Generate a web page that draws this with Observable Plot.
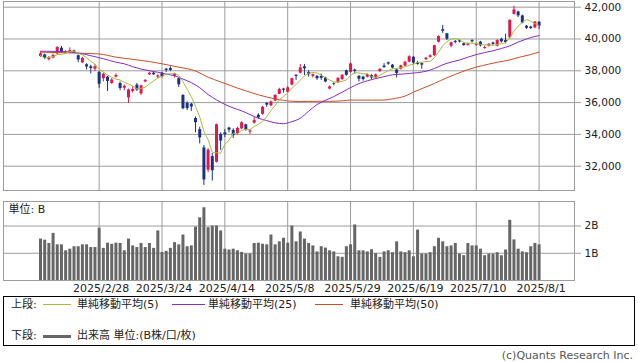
<!DOCTYPE html>
<html>
<head>
<meta charset="utf-8">
<script src="https://cdn.jsdelivr.net/npm/d3@7"></script>
<script src="https://cdn.jsdelivr.net/npm/@observablehq/plot@0.6"></script>
<style>
  html, body { margin: 0; padding: 0; background: #fff; }
  #wrap { position: relative; width: 638px; height: 362px; overflow: hidden;
          font-family: "DejaVu Sans", "Noto Sans CJK JP", sans-serif; color: #222; }
  #top, #vol { position: absolute; left: 0; }
  #top { top: 0; }
  #vol { top: 196px; }
  .box { position: absolute; left: 3px; top: 296px; width: 632px; height: 50px;
         border: 1px solid #000; box-sizing: border-box; }
  .lt { position: absolute; font-size: 11px; line-height: 14px; height: 14px; white-space: nowrap; color: #222; }
  .ln { position: absolute; }
  .copy { position: absolute; right: 5px; top: 350px; font-size: 11px; line-height: 11px; height: 11px; color: #555; white-space: nowrap; }
</style>
</head>
<body>
<div id="wrap">
  <div id="top"></div>
  <div id="vol"></div>
  <div class="box"></div>
  <span class="lt" style="left:11px;top:298px">上段:</span>
  <span class="ln" style="left:43px;top:304px;width:28px;height:1px;background:#a9bd3c"></span>
  <span class="lt" style="left:77px;top:298px">単純移動平均(5)</span>
  <span class="ln" style="left:172px;top:304px;width:33px;height:1px;background:#8a2ac8"></span>
  <span class="lt" style="left:208px;top:298px">単純移動平均(25)</span>
  <span class="ln" style="left:315px;top:304px;width:28px;height:1px;background:#cf4d28"></span>
  <span class="lt" style="left:350px;top:298px">単純移動平均(50)</span>
  <span class="lt" style="left:11px;top:329px">下段:</span>
  <span class="ln" style="left:43px;top:335px;width:28px;height:3px;background:#666"></span>
  <span class="lt" style="left:77px;top:329px">出来高 単位:(B株/口/枚)</span>
  <span class="copy">(c)Quants Research Inc.</span>
</div>
<script>
// ---- data ----
const dates = [
  "2/6","2/7","2/10","2/12","2/13","2/14","2/17","2/18","2/19","2/20","2/21","2/25","2/26","2/27","2/28",
  "3/3","3/4","3/5","3/6","3/7","3/10","3/11","3/12","3/13","3/14","3/17","3/18","3/19","3/21","3/24",
  "3/25","3/26","3/27","3/28","3/31","4/1","4/2","4/3","4/4","4/7","4/8","4/9","4/10","4/11","4/14",
  "4/15","4/16","4/17","4/18","4/21","4/22","4/23","4/24","4/25","4/28","4/30","5/1","5/2","5/7","5/8",
  "5/9","5/12","5/13","5/14","5/15","5/16","5/19","5/20","5/21","5/22","5/23","5/26","5/27","5/28","5/29",
  "5/30","6/2","6/3","6/4","6/5","6/6","6/9","6/10","6/11","6/12","6/13","6/16","6/17","6/18","6/19",
  "6/20","6/23","6/24","6/25","6/26","6/27","6/30","7/1","7/2","7/3","7/4","7/7","7/8","7/9","7/10",
  "7/11","7/14","7/15","7/16","7/17","7/18","7/22","7/23","7/24","7/25","7/28","7/29","7/30","7/31","8/1"
];
const tickDates = ["2/28","3/24","4/14","5/8","5/29","6/19","7/10","8/1"];
const priceTicks = [32000, 34000, 36000, 38000, 40000, 42000];
const volumeTicks = [1, 2];

const opens = [
  38900,39000,38700,38800,39060,39420,39100,39150,39250,38950,38500,38380,38250,38100,37900,
  37500,37600,37200,37600,37200,36900,36300,36700,37100,36550,37300,37750,37850,37600,37850,
  38100,38150,37650,37500,36450,35950,35900,35000,34300,33150,31750,32600,32250,34000,34100,
  34400,34250,34050,34350,34600,34150,34700,35200,35260,35950,35800,36100,36520,36850,36650,
  37100,37720,37850,38250,37900,37650,37650,37650,37550,36850,37200,37250,37450,38000,37900,
  38050,37650,37600,37600,37700,37550,37950,38300,38500,38350,38050,38100,38300,38550,38850,
  38500,38450,38700,38850,38950,39800,40580,40330,39550,39850,39880,39700,39600,39900,39600,
  39800,39400,39550,39750,39550,39980,39900,40080,41550,41700,41450,40800,40750,40700,41050
];
const highs = [
  39180,39050,38900,39050,39520,39530,39260,39440,39300,39000,38850,38450,38350,38400,37950,
  37850,37650,37500,37800,37300,37100,36850,37000,37200,37100,37450,37900,37900,37750,37900,
  38150,38250,37850,37550,36500,36050,35950,35100,34450,33300,33100,32800,34650,34100,34300,
  34450,34350,34450,34800,34650,34300,35100,35300,35750,36000,36100,36500,36900,36900,37000,
  37550,37750,38400,38400,38000,37800,37700,37800,37600,37050,37250,37550,37750,38050,38500,
  38100,37700,37650,37800,37750,37800,38150,38450,38550,38400,38100,38350,38600,38950,38900,
  38600,38500,38850,39000,39600,40200,40850,40350,39800,39900,39950,39750,39750,39950,39750,
  39850,39550,39700,39800,39950,40050,40300,41200,42060,41750,41500,40850,40800,41100,41100
];
const lows = [
  38850,38700,38620,38750,39000,39100,39060,39100,39100,38500,38450,38050,37800,37950,36900,
  37300,36700,37150,37550,36750,36750,35950,36600,36700,36450,37250,37700,37700,37500,37550,
  37900,37950,37550,36950,35550,35500,35450,34100,33400,30792,31600,31064,32200,33000,33800,
  34100,33750,33950,34300,34200,34000,34650,34950,35200,35700,35750,36050,36500,36600,36600,
  37050,37400,37800,37700,37600,37550,37400,37400,37250,36800,37050,37200,37400,37650,37850,
  37800,37300,37350,37550,37450,37500,37900,38150,38350,38100,37550,38050,38250,38500,38400,
  38350,38100,38650,38800,38900,39750,40350,39900,39450,39700,39750,39550,39550,39750,39550,
  39500,39350,39500,39600,39500,39750,39700,40000,41500,41350,40950,40600,40600,40650,40600
];
const closes = [
  39066,38787,38801,38963,39461,39149,39174,39270,39164,38678,38776,38237,38142,38256,37155,
  37785,37331,37418,37704,36887,37028,36793,36819,36790,37053,37396,37845,37751,37677,37608,
  38027,38027,37799,37120,35617,35624,35725,34735,33780,31136,33012,31714,34609,33585,33982,
  34267,33920,34377,34730,34280,34220,34868,35039,35705,35839,36045,36452,36830,36780,36928,
  37503,37644,38183,38128,37755,37753,37498,37529,37298,36985,37160,37531,37724,37722,38432,
  37965,37470,37446,37747,37554,37741,38088,38211,38421,38173,37834,38311,38536,38885,38488,
  38403,38354,38790,38942,39584,40150,40487,39986,39762,39785,39810,39587,39688,39821,39646,
  39569,39459,39678,39663,39901,39819,39774,41171,41826,41456,40998,40674,40654,41069,40799
];
const ma5 = [
  38957,38800,38857,38890,39016,39032,39110,39203,39244,39087,39012,38825,38599,38418,38113,
  37915,37734,37589,37479,37425,37274,37166,37046,36863,36897,36970,37181,37367,37544,37655,
  37782,37818,37828,37716,37318,36837,36377,35764,35096,34200,33678,32875,32850,32811,33380,
  33631,34073,34026,34255,34315,34305,34495,34627,34822,35134,35499,35816,36174,36389,36607,
  36899,37137,37408,37677,37843,37893,37863,37733,37567,37413,37294,37301,37340,37424,37714,
  37875,37863,37807,37812,37636,37592,37715,37868,38003,38127,38145,38190,38255,38348,38411,
  38525,38533,38584,38595,38815,39164,39591,39830,39994,40034,39966,39786,39726,39738,39710,
  39662,39637,39635,39603,39654,39704,39767,40066,40498,40809,41045,41225,41122,40970,40839
];
const ma25Dates = ["2/6","2/12","2/17","2/20","2/26","3/3","3/6","3/10","3/12","3/14","3/18","3/21","3/25","3/27","3/31",
  "4/2","4/4","4/8","4/10","4/14","4/16","4/18","4/22","4/24","4/28","5/1","5/7","5/9","5/13","5/15","5/19","5/21",
  "5/23","5/27","5/29","6/2","6/4","6/6","6/10","6/12","6/16","6/18","6/20","6/24","6/26","6/30","7/2","7/4","7/8",
  "7/10","7/14","7/16","7/18","7/23","7/25","7/29","7/31","8/1"];
const ma25 = [39230,39220,39200,39120,38950,38760,38540,38438,38259,38108,38003,37910,37791,37686,37482,
  37255,36940,36508,36171,35890,35665,35484,35247,35019,34869,34727,34675,34802,35017,35456,35877,36142,
  36378,36656,36942,37196,37374,37511,37631,37747,37786,37831,37886,37971,38141,38378,38550,38678,38853,
  39019,39147,39256,39404,39568,39804,40001,40161,40209];
const ma50Dates = ["2/6","2/14","2/21","2/28","3/6","3/12","3/18","3/24","3/28","4/3","4/8","4/11","4/15","4/17",
  "4/21","4/24","4/28","5/2","5/8","5/13","5/15","5/20","5/22","5/27","5/29","6/3","6/5","6/10","6/12","6/17",
  "6/19","6/24","6/26","7/1","7/3","7/8","7/10","7/15","7/17","7/23","7/25","7/30","8/1"];
const ma50 = [39170,39140,39100,39060,38860,38720,38580,38440,38230,37990,37600,37300,37109,36913,
  36741,36490,36352,36187,36104,36068,36077,36082,36076,36112,36158,36156,36156,36160,36237,36409,
  36658,36982,37202,37563,37773,38073,38231,38419,38536,38684,38832,39023,39175];
const volumes = [
  1.52,1.48,1.36,1.73,1.31,1.31,1.09,1.15,1.24,1.24,1.31,1.31,1.21,1.21,1.92,
  1.18,1.37,1.33,1.37,1.36,1.09,1.52,1.27,1.21,1.36,1.21,1.36,1.18,1.82,1.03,
  1.07,1.18,1.39,1.31,1.67,1.24,1.27,1.96,2.30,2.67,1.94,2.00,2.00,1.82,1.15,
  1.12,1.15,1.09,1.03,0.97,0.97,1.36,1.37,1.33,1.31,1.67,1.31,1.42,1.55,1.37,
  2.00,1.42,1.78,1.52,1.36,1.27,1.05,1.24,1.19,1.09,1.05,0.87,0.85,1.24,1.31,
  2.04,1.09,1.09,1.05,1.13,0.99,0.85,1.05,1.09,1.02,1.42,1.05,1.02,1.09,0.87,
  1.85,0.97,0.97,1.02,1.24,1.55,1.42,1.24,1.27,1.36,0.97,0.91,1.36,1.27,1.27,
  1.15,0.91,0.97,0.97,1.02,0.91,1.12,2.21,1.49,1.15,1.05,1.02,1.24,1.36,1.31
];

// ---- build tables ----
const rows = dates.map((d, i) => ({
  i, date: d, open: opens[i], high: highs[i], low: lows[i], close: closes[i], ma5: ma5[i], vol: volumes[i]
}));
const ma25Rows = ma25Dates.map((d, k) => ({ i: dates.indexOf(d), v: ma25[k] }));
const ma50Rows = ma50Dates.map((d, k) => ({ i: dates.indexOf(d), v: ma50[k] }));
const tickIdx = tickDates.map(d => dates.indexOf(d));

const UP = "#e3154c", DOWN = "#1b3282";
const GRID = "#9c9c9c";
const FONT = "DejaVu Sans, Noto Sans CJK JP, sans-serif";
const xDomain = [-8.83, 127.45];
const candleColor = d => d.close >= d.open ? UP : DOWN;

const topChart = Plot.plot({
  width: 638, height: 196,
  marginTop: 1, marginBottom: 6, marginLeft: 3, marginRight: 64,
  x: { domain: xDomain, axis: null, label: null },
  y: { domain: [30472, 42358], axis: null, label: null },
  color: { type: "identity" },
  style: { fontFamily: FONT, fontSize: "10.5px", color: "#222", background: "#fff" },
  marks: [
    Plot.gridY(priceTicks, { stroke: GRID, strokeOpacity: 1 }),
    Plot.gridX(tickIdx, { stroke: GRID, strokeOpacity: 1 }),
    Plot.axisY(priceTicks, { anchor: "right", tickSize: 6, tickPadding: 4, stroke: GRID, label: null,
      tickFormat: d3.format(","), fontSize: 10.5 }),
    Plot.frame({ stroke: GRID }),
    Plot.ruleX(rows, { x: "i", y1: "low", y2: "high", stroke: candleColor, strokeWidth: 1 }),
    Plot.ruleX(rows, { x: "i", y1: "open", y2: "close", stroke: candleColor, strokeWidth: 3 }),
    Plot.line(ma50Rows, { x: "i", y: "v", stroke: "#cf4d28", strokeWidth: 1, curve: "monotone-x" }),
    Plot.line(ma25Rows, { x: "i", y: "v", stroke: "#8a2ac8", strokeWidth: 1, curve: "monotone-x" }),
    Plot.line(rows, { x: "i", y: "ma5", stroke: "#a9bd3c", strokeWidth: 1 })
  ]
});
document.getElementById("top").appendChild(topChart);

const volChart = Plot.plot({
  width: 638, height: 100,
  marginTop: 5, marginBottom: 16, marginLeft: 3, marginRight: 64,
  x: { domain: xDomain, axis: null, label: null },
  y: { domain: [0, 2.9], axis: null, label: null },
  style: { fontFamily: FONT, fontSize: "11px", color: "#222", background: "#fff" },
  marks: [
    Plot.gridY(volumeTicks, { stroke: GRID, strokeOpacity: 1 }),
    Plot.gridX(tickIdx, { stroke: GRID, strokeOpacity: 1 }),
    Plot.ruleX(rows, { x: "i", y1: 0, y2: "vol", stroke: "#666", strokeWidth: 3 }),
    Plot.axisY(volumeTicks, { anchor: "right", tickSize: 6, tickPadding: 4, stroke: GRID, label: null,
      tickFormat: d => d + "B", fontSize: 10.5 }),
    Plot.axisX(tickIdx, { anchor: "bottom", tickSize: 0, tickPadding: 4, dx: 2, label: null,
      tickFormat: i => "2025/" + dates[i], fontSize: 11 }),
    Plot.frame({ stroke: GRID }),
    Plot.text(["単位: B"], { frameAnchor: "top-left", dx: 5, dy: 8, lineAnchor: "middle",
      textAnchor: "start", fontSize: 11, fill: "#222" })
  ]
});
document.getElementById("vol").appendChild(volChart);
</script>
</body>
</html>
